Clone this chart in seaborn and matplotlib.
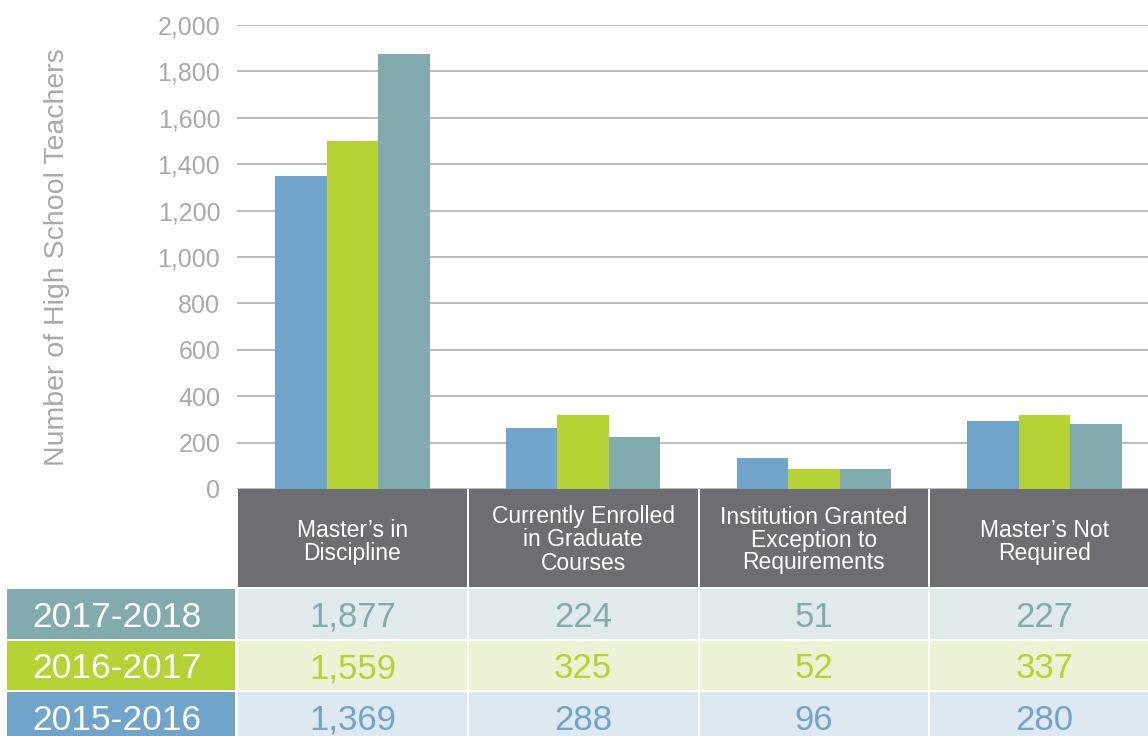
import pandas as pd
import seaborn as sns
import matplotlib.pyplot as plt
from matplotlib.patches import Rectangle
from matplotlib.ticker import FuncFormatter

# Data
categories = ["Master’s in\nDiscipline",
              "Currently Enrolled\nin Graduate\nCourses",
              "Institution Granted\nException to\nRequirements",
              "Master’s Not\nRequired"]
years = ["2015-2016", "2016-2017", "2017-2018"]

# bar heights as drawn
bars_2015 = [1347, 262, 133, 292]
bars_2016 = [1501, 318, 85, 318]
bars_2017 = [1877, 223, 85, 279]

# numbers printed in the table
table_2015 = [1369, 288, 96, 280]
table_2016 = [1559, 325, 52, 337]
table_2017 = [1877, 224, 51, 227]

colors = {"2015-2016": "#71a4cb", "2016-2017": "#b5d334", "2017-2018": "#82abb0"}
light = {"2015-2016": "#dde8f1", "2016-2017": "#ecf3d4", "2017-2018": "#e0eaea"}
header_grey = "#6d6e71"
grey = "#a7a9ac"

rows = []
for year, vals in zip(years, [bars_2015, bars_2016, bars_2017]):
    for cat, v in zip(categories, vals):
        rows.append({"Category": cat, "Year": year, "Teachers": v})
df = pd.DataFrame(rows)

sns.set_theme(style="white")
plt.rcParams['font.family'] = ['Liberation Sans', 'DejaVu Sans']

W, H = 1148, 736
fig = plt.figure(figsize=(W / 100, H / 100), dpi=100)

# layout in pixels
x0, col_w = 237, 230.75
y_top, y_base = 25, 489

ax = fig.add_axes([x0 / W, 1 - y_base / H, 4 * col_w / W, (y_base - y_top) / H])
sns.barplot(data=df, x="Category", y="Teachers", hue="Year", hue_order=years,
            order=categories, palette=colors, width=0.67, gap=0, saturation=1,
            linewidth=0, legend=False, ax=ax)
ax.set_xlim(-0.5, 3.5)
ax.set_ylim(0, 2000)
ax.set_yticks(range(0, 2001, 200))
ax.yaxis.set_major_formatter(FuncFormatter(lambda v, p: f"{int(v):,}"))
ax.tick_params(axis="y", length=0, pad=12, labelsize=18, labelcolor=grey)
ax.set_xticks([])
ax.set_xlabel("")
ax.grid(axis="y", color=grey, linewidth=1.1)
ax.set_axisbelow(True)
for s in ax.spines.values():
    s.set_visible(False)
ax.set_ylabel("Number of High School Teachers", fontsize=20.5, color=grey)
ax.yaxis.set_label_coords((70 - x0) / (4 * col_w), 0.5)

# table drawn in pixel space on top
tab = fig.add_axes([0, 0, 1, 1], zorder=5)
tab.set_xlim(0, W)
tab.set_ylim(H, 0)
tab.axis("off")
tab.patch.set_alpha(0)

head_h = 98
for i, cat in enumerate(categories):
    left = x0 + i * col_w + 1
    n_lines = cat.count("\n") + 1
    shift = 4 if n_lines == 2 else 2
    tab.add_patch(Rectangle((left, y_base), col_w - 2, head_h, color=header_grey, lw=0))
    tab.text(left + (col_w - 2) / 2, y_base + head_h / 2 + shift, cat, color="white",
             fontsize=16.5, ha="center", va="center", linespacing=1.0)

row_top = y_base + head_h + 2
row_h = 49.5
table_rows = [("2017-2018", table_2017), ("2016-2017", table_2016), ("2015-2016", table_2015)]
for r, (year, vals) in enumerate(table_rows):
    top = row_top + r * (row_h + 2)
    tab.add_patch(Rectangle((7, top), 228, row_h, color=colors[year], lw=0))
    tab.text(117, top + row_h / 2, year, color="white", fontsize=25.5,
             ha="center", va="center_baseline")
    for i, v in enumerate(vals):
        left = x0 + i * col_w + 1
        tab.add_patch(Rectangle((left, top), col_w - 2, row_h, color=light[year], lw=0))
        tab.text(left + (col_w - 2) / 2, top + row_h / 2, f"{v:,}", color=colors[year],
                 fontsize=25, ha="center", va="center_baseline")

fig.savefig("out.png", dpi=100)
